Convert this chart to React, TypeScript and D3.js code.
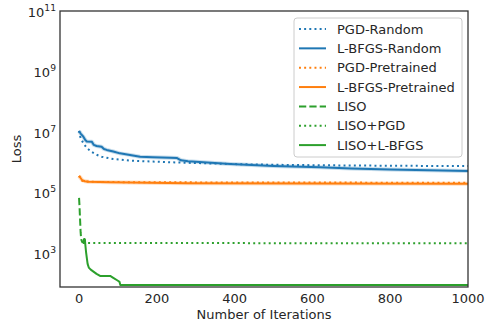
import React from "react";
import * as d3 from "d3";

type Pt = [number, number];

const pgdRandom: Pt[] = [
  [0, 1.1e7], [3, 7.0e6], [11, 4.3e6], [20, 3.0e6], [33, 2.2e6], [45, 1.8e6],
  [58, 1.55e6], [88, 1.3e6], [131, 1.15e6], [190, 1.07e6], [252, 1.0e6],
  [388, 8.9e5], [500, 8.4e5], [620, 8.1e5], [800, 7.8e5], [1000, 7.6e5],
];
const lbfgsRandom: Pt[] = [
  [0, 1.1e7], [4, 9.0e6], [11, 7.1e6], [16, 5.5e6], [20, 4.9e6], [33, 4.8e6],
  [38, 3.8e6], [45, 3.5e6], [58, 3.3e6], [64, 2.8e6], [71, 2.6e6], [88, 2.3e6],
  [105, 2.0e6], [131, 1.78e6], [157, 1.55e6], [190, 1.48e6], [234, 1.42e6],
  [252, 1.4e6], [262, 1.18e6], [280, 1.1e6], [300, 1.05e6], [388, 8.9e5],
  [500, 7.6e5], [620, 6.9e5], [700, 6.3e5], [800, 5.9e5], [1000, 5.2e5],
];
const pgdPretrained: Pt[] = [
  [0, 3.6e5], [3, 3.0e5], [8, 2.5e5], [15, 2.35e5], [30, 2.3e5], [100, 2.25e5],
  [400, 2.18e5], [1000, 2.15e5],
];
const lbfgsPretrained: Pt[] = [
  [0, 3.6e5], [3, 3.2e5], [8, 2.6e5], [15, 2.4e5], [25, 2.3e5], [80, 2.22e5],
  [280, 2.08e5], [600, 2.02e5], [1000, 2.0e5],
];
const liso: Pt[] = [
  [0, 6.8e4], [1, 4.0e4], [2, 2.0e4], [3, 1.0e4], [4, 5.0e3], [5, 3.5e3],
  [6, 2.8e3], [8, 2.4e3], [10, 2.2e3],
];
const lisoPgd: Pt[] = [[10, 2.2e3], [1000, 2.15e3]];
const lisoLbfgs: Pt[] = [
  [10, 2.2e3], [13, 3.0e3], [15, 2.9e3], [16, 2.0e3], [18, 1.1e3], [20, 7.0e2],
  [22, 4.5e2], [25, 3.4e2], [30, 2.9e2], [37, 2.5e2], [45, 2.1e2], [54, 1.8e2],
  [80, 1.8e2], [88, 1.55e2], [100, 1.25e2], [104, 1.15e2], [106, 91], [1000, 91],
];

const xTicks = [0, 200, 400, 600, 800, 1000];
const yTickExps = [3, 5, 7, 9, 11];

const seriesNames = [
  "PGD-Random", "L-BFGS-Random", "PGD-Pretrained", "L-BFGS-Pretrained",
  "LISO", "LISO+PGD", "LISO+L-BFGS",
];
const seriesData = [pgdRandom, lbfgsRandom, pgdPretrained, lbfgsPretrained, liso, lisoPgd, lisoLbfgs];
const seriesColors = ["#1f77b4", "#1f77b4", "#ff7f0e", "#ff7f0e", "#2ca02c", "#2ca02c", "#2ca02c"];
const seriesStyles = ["dot", "solid", "dot", "solid", "dash", "dot", "solid"];

const W = 487, H = 324;
const L = 60, R = 468, T = 11, B = 287;
const FONT = "'DejaVu Sans', sans-serif";
const TXT = "#262626";

function dashFor(s: string) {
  if (s === "dot") return "1.96,3.2";
  if (s === "dash") return "7.25,3.1";
  return undefined;
}

export default function App() {
  const x = d3.scaleLinear().domain([-49, 1000]).range([L, R]);
  const y = d3.scaleLog().domain([Math.pow(10, 1.89), 1e11]).range([B, T]);
  const line = d3.line<Pt>().x((d) => x(d[0])).y((d) => y(d[1]));

  const legX = 294, legY = 18, legW = 168, legH = 139;
  const rowY = (i: number) => 29 + i * 19.35;

  return (
    <svg width={W} height={H} style={{ position: "absolute", left: 0, top: 0 }} fontFamily={FONT}>
      <defs>
        <clipPath id="plot">
          <rect x={L} y={T} width={R - L} height={B - T} />
        </clipPath>
      </defs>
      <rect x={0} y={0} width={W} height={H} fill="white" />
      <g clipPath="url(#plot)">
        {seriesData.map((d, i) =>
          seriesStyles[i] === "solid" && i < 4 ? (
            <path key={"h" + i} d={line(d) || ""} fill="none" stroke={seriesColors[i]}
              strokeOpacity={0.25} strokeWidth={4} strokeLinejoin="round" />
          ) : null
        )}
        {seriesData.map((d, i) => (
          <path key={i} d={line(d) || ""} fill="none" stroke={seriesColors[i]}
            strokeWidth={2} strokeDasharray={dashFor(seriesStyles[i])}
            strokeLinejoin="round" />
        ))}
      </g>
      <rect x={L} y={T} width={R - L} height={B - T} fill="none" stroke="#333" strokeWidth={1.3} />
      {xTicks.map((t) => (
        <text key={t} x={x(t)} y={303} textAnchor="middle" fontSize={13} fill={TXT}>{t}</text>
      ))}
      {yTickExps.map((e) => (
        <text key={e} x={56} y={y(Math.pow(10, e)) + 5.5} textAnchor="end" fontSize={13} fill={TXT}>
          <tspan>10</tspan>
          <tspan dy={-6} fontSize={9.2}>{e}</tspan>
        </text>
      ))}
      <text x={(L + R) / 2} y={319} textAnchor="middle" fontSize={13} fill={TXT}>Number of Iterations</text>
      <text transform={`translate(21,${(T + B) / 2}) rotate(-90)`} textAnchor="middle" fontSize={13} fill={TXT}>Loss</text>
      <rect x={legX} y={legY} width={legW} height={legH} rx={3} ry={3}
        fill="white" fillOpacity={0.8} stroke="#cccccc" strokeWidth={1} />
      {seriesNames.map((n, i) => (
        <g key={n}>
          <line x1={299} x2={326} y1={rowY(i)} y2={rowY(i)} stroke={seriesColors[i]}
            strokeWidth={2} strokeDasharray={dashFor(seriesStyles[i])} />
          <text x={337} y={rowY(i) + 4.7} fontSize={13} fill={TXT}>{n}</text>
        </g>
      ))}
    </svg>
  );
}
